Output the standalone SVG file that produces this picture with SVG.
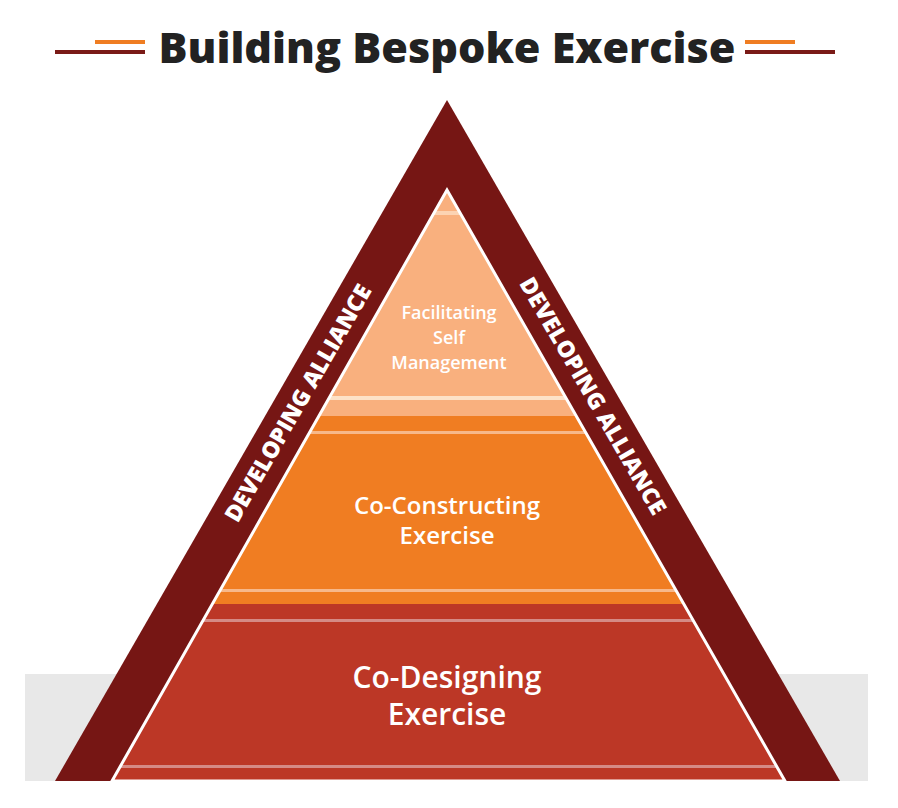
<svg xmlns="http://www.w3.org/2000/svg" width="898" height="808" viewBox="0 0 898 808">
<defs>
<style>
.t{font-family:"Open Sans","Liberation Sans",sans-serif;fill:#fff;text-anchor:middle;font-weight:600}
.side{font-family:"Open Sans","Liberation Sans",sans-serif;fill:#fff;text-anchor:middle;font-weight:800;font-size:23px}
</style>
<clipPath id="inner"><polygon points="447,190 112,781 785,781"/></clipPath>
</defs>
<rect width="898" height="808" fill="#fff"/>
<g id="title">
<line x1="55" y1="52" x2="145" y2="52" stroke="#7a1a17" stroke-width="4"/>
<line x1="95" y1="42" x2="145" y2="42" stroke="#ef7d22" stroke-width="4"/>
<line x1="745" y1="52" x2="835" y2="52" stroke="#7a1a17" stroke-width="4"/>
<line x1="745" y1="42" x2="795" y2="42" stroke="#ef7d22" stroke-width="4"/>
<text x="447" y="63" font-family="'Open Sans','Liberation Sans',sans-serif" font-weight="800" font-size="42" fill="#222" text-anchor="middle" textLength="577" lengthAdjust="spacingAndGlyphs">Building Bespoke Exercise</text>
</g>
<rect x="25" y="674" width="843" height="107" fill="#e8e8e8"/>
<g id="outer">
<polygon points="447,100 55,781 840,781" fill="#761614"/>
<text class="side" transform="translate(305,407) rotate(-60)">DEVELOPING ALLIANCE</text>
<text class="side" transform="translate(586,400) rotate(60)">DEVELOPING ALLIANCE</text>
</g>
<g id="bands" clip-path="url(#inner)">
<rect x="0" y="180" width="898" height="236" fill="#f9b07e"/>
<rect x="0" y="211" width="898" height="4" fill="#fcd3b3"/>
<rect x="0" y="396" width="898" height="4" fill="#fde2c8"/>
<rect x="0" y="416" width="898" height="188" fill="#f07d22"/>
<rect x="0" y="431" width="898" height="3" fill="#f7b88a"/>
<rect x="0" y="589" width="898" height="3" fill="#f7b88a"/>
<rect x="0" y="604" width="898" height="180" fill="#bc3726"/>
<rect x="0" y="619" width="898" height="3" fill="#d58a85"/>
<rect x="0" y="765" width="898" height="3" fill="#d58a85"/>
</g>
<polygon points="447,190 112,781 785,781" fill="none" stroke="#fff" stroke-width="3"/>
<g id="n1"><text class="t" font-size="18"><tspan x="449" y="319">Facilitating</tspan><tspan x="449" y="344">Self</tspan><tspan x="449" y="369">Management</tspan></text></g>
<g id="n2"><text class="t" font-size="24"><tspan x="447" y="514">Co-Constructing</tspan><tspan x="447" y="544">Exercise</tspan></text></g>
<g id="n3"><text class="t" font-size="30"><tspan x="447" y="688">Co-Designing</tspan><tspan x="447" y="725">Exercise</tspan></text></g>
<g id="connectors"/>
</svg>
